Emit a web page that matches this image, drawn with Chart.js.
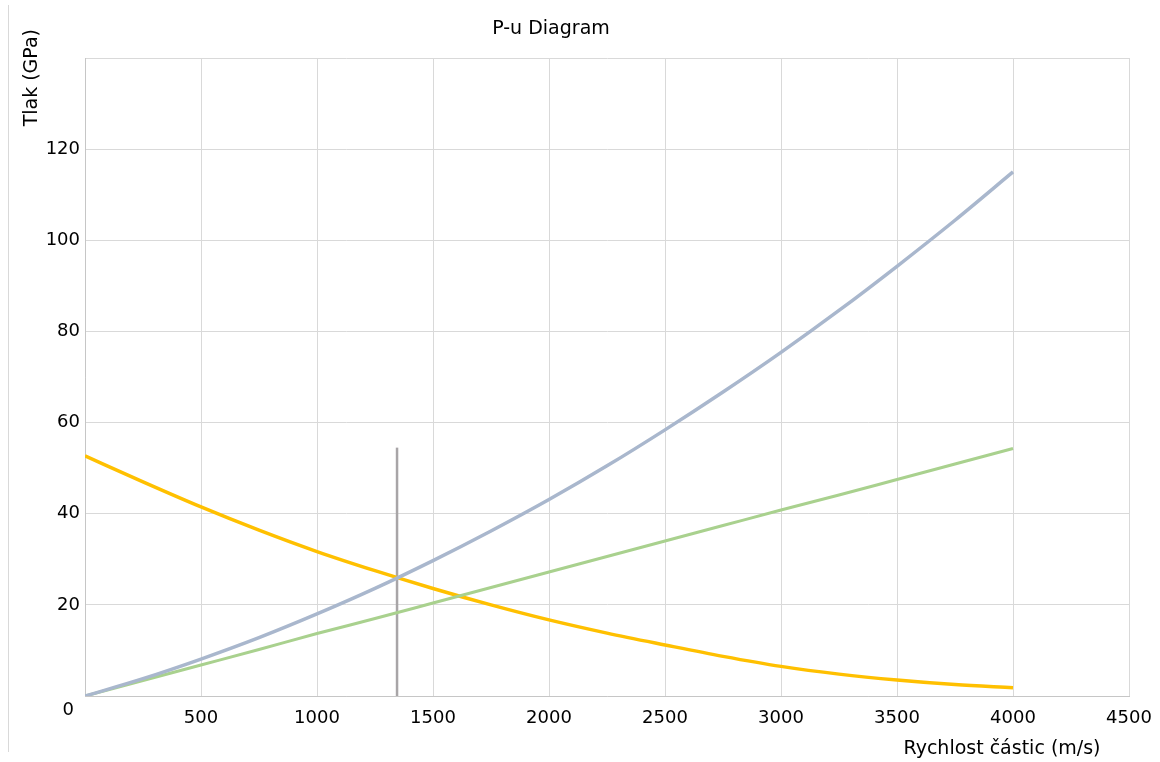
<!DOCTYPE html>
<html>
<head>
<meta charset="utf-8">
<script src="https://cdn.jsdelivr.net/npm/chart.js@4/dist/chart.umd.min.js"></script>
<style>
  html, body { margin: 0; padding: 0; background: #fff; }
  #wrap { position: relative; width: 1160px; height: 762px; }
  #edge { position: absolute; left: 8px; top: 5px; width: 0; height: 747px; border-left: 1px solid #d9d9d9; }
</style>
</head>
<body>
<div id="wrap">
  <div id="edge"></div>
  <canvas id="pu-chart"></canvas>
</div>
<script>
// ------------------------------------------------------------
//  P-u diagram
// ------------------------------------------------------------

const speeds = [0, 250, 500, 750, 1000, 1250, 1500, 1750, 2000, 2250, 2500, 2750, 3000, 3250, 3500, 3750, 4000];

// Hugoniot curves (GPa)
const hugoGray   = [0, 3.8, 8.1, 12.8, 18.0, 23.6, 29.7, 36.2, 43.1, 50.5, 58.4, 66.7, 75.4, 84.6, 94.3, 104.4, 115.0];
const hugoGreen  = [0, 3.4, 6.8, 10.2, 13.7, 17.0, 20.4, 23.8, 27.2, 30.6, 34.0, 37.4, 40.8, 44.1, 47.5, 50.9, 54.3];
const hugoOrange = [52.7, 47.0, 41.5, 36.4, 31.7, 27.5, 23.6, 20.0, 16.7, 13.8, 11.2, 8.7, 6.5, 4.8, 3.5, 2.5, 1.8];

// vertical marker at the intersection
const markerX = [1345, 1345];
const markerY = [0, 54.5];

const xTicks = [0, 500, 1000, 1500, 2000, 2500, 3000, 3500, 4000, 4500];
const yTicks = [0, 20, 40, 60, 80, 100, 120, 140];

const FONT = 'DejaVu Sans';
const _grid = '#d9d9d9';

const pts = (xs, ys) => xs.map((x, i) => ({ x, y: ys[i] }));

// titles drawn by hand so they sit where the original has them
const labelsPlugin = {
  id: 'puLabels',
  afterDraw(chart) {
    const c = chart.ctx;
    const xs = chart.scales.x, ys = chart.scales.y;
    c.save();
    c.fillStyle = '#000';
    c.textBaseline = 'middle';

    c.font = `19px "${FONT}"`;
    c.textAlign = 'center';
    c.fillText('P-u Diagram', 551, 29);
    c.fillText('Rychlost částic (m/s)', 1002, 749);

    c.font = `18px "${FONT}"`;
    c.textAlign = 'right';
    c.fillText('0', xs.left - 11, ys.bottom + 14);

    c.font = `19px "${FONT}"`;
    c.translate(32, 29);
    c.rotate(-Math.PI / 2);
    c.textAlign = 'right';
    c.fillText('Tlak (GPa)', 0, 0);
    c.restore();
  }
};

const ctx = document.getElementById('pu-chart').getContext('2d');
new Chart(ctx, {
  type: 'line',
  data: {
    datasets: [
      {
        data: pts(speeds, hugoGray), borderColor: '#a9b7cd', borderWidth: 3.5,
        pointRadius: 0, cubicInterpolationMode: 'monotone'
      },
      {
        data: pts(speeds, hugoGreen), borderColor: '#a9d18e', borderWidth: 3,
        pointRadius: 0, cubicInterpolationMode: 'monotone'
      },
      {
        data: pts(speeds, hugoOrange), borderColor: '#ffc000', borderWidth: 3.5,
        pointRadius: 0, cubicInterpolationMode: 'monotone'
      },
      {
        data: pts(markerX, markerY), borderColor: '#a8a5a7', borderWidth: 2.5,
        pointRadius: 0, tension: 0
      }
    ]
  },
  options: {
    responsive: true,
    maintainAspectRatio: false,
    animation: false,
    layout: { padding: { left: 0, top: 58, right: 31, bottom: 0 } },
    plugins: { legend: { display: false }, tooltip: { enabled: false }, title: { display: false } },
    scales: {
      x: {
        type: 'linear', min: 0, max: 4500,
        afterBuildTicks: s => { s.ticks = xTicks.map(v => ({ value: v })); },
        afterFit: s => { s.height = 66; s.paddingRight = 0; s.paddingLeft = 0; },
        grid: { color: _grid, drawTicks: false },
        border: { color: '#c6c6c6' },
        ticks: {
          color: '#000', padding: 12, maxRotation: 0,
          font: { family: FONT, size: 18 },
          callback: v => v === 0 ? '' : String(v)
        }
      },
      y: {
        type: 'linear', min: 0, max: 140,
        afterBuildTicks: s => { s.ticks = yTicks.map(v => ({ value: v })); },
        afterFit: s => { s.width = 85; s.paddingTop = 0; s.paddingBottom = 0; },
        grid: { color: _grid, drawTicks: false },
        border: { color: '#c6c6c6' },
        ticks: {
          color: '#000', padding: 5,
          font: { family: FONT, size: 18 },
          callback: v => (v === 0 || v === 140) ? '' : String(v)
        }
      }
    }
  },
  plugins: [labelsPlugin]
});
</script>
</body>
</html>
